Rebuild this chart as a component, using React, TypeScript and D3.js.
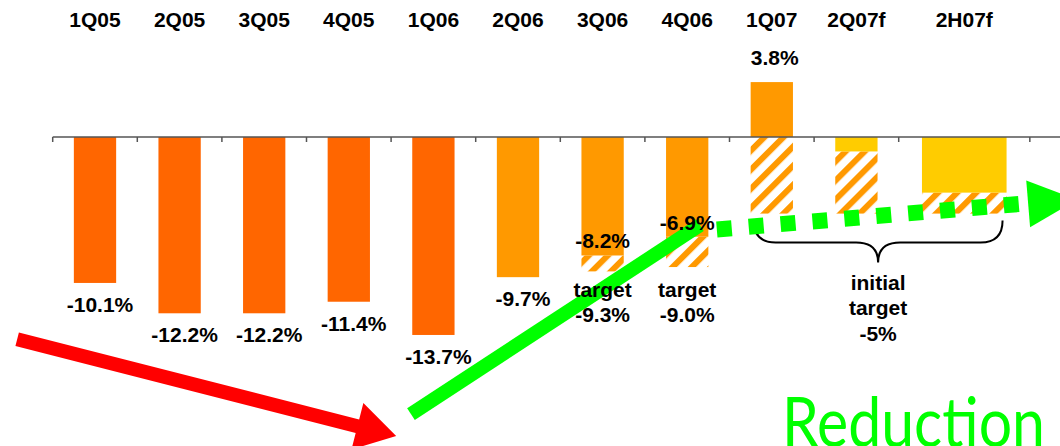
import React from 'react';
import * as d3 from 'd3';

// ---- data ----
const categories = ['1Q05', '2Q05', '3Q05', '4Q05', '1Q06', '2Q06', '3Q06', '4Q06', '1Q07', '2Q07f', '2H07f'];
const phases = ['before', 'before', 'before', 'before', 'before', 'programme', 'programme', 'programme', 'programme', 'forecast', 'forecast'];
const actualValues = [-10.1, -12.2, -12.2, -11.4, -13.7, -9.7, -8.2, -6.9, 3.8, -1.0, -3.85];
const targetValues: (number | null)[] = [null, null, null, null, null, null, -9.3, -9.0, -5.3, -5.3, -5.3];
const valueLabels: (string | null)[] = ['-10.1%', '-12.2%', '-12.2%', '-11.4%', '-13.7%', '-9.7%', '-8.2%', '-6.9%', '3.8%', null, null];
const targetLabels: (string | null)[] = [null, null, null, null, null, null, '-9.3%', '-9.0%', null, null, null];
const targetWord = 'target';
const initialTargetLines = ['initial', 'target', '-5%'];
const headline = 'Reduction';

// ---- layout ----
const W = 1060;
const H = 446;
const FONT = "'Liberation Sans', Arial, Helvetica, sans-serif";

const span = (c: string) => (c.startsWith('2H') ? 1.55 : 1);
const edges: number[] = [0];
categories.forEach((c, i) => edges.push(edges[i] + span(c)));

const x = d3.scaleLinear().domain([0, 10]).range([52.7, 898.7]);
const y = d3.scaleLinear().domain([0, -10]).range([137, 281.5]);
const color = d3.scaleOrdinal<string, string>()
  .domain(['before', 'programme', 'forecast'])
  .range(['#FF6600', '#FF9900', '#FFCC00']);

const center = (i: number) => x((edges[i] + edges[i + 1]) / 2);
const barW = (i: number) => (span(categories[i]) > 1 ? x(1) - x(0) : (x(1) - x(0)) * 0.5);

function arrowPath(x1: number, y1: number, x2: number, y2: number, shaftHalf: number, headLen: number, headHalf: number) {
  const dx = x2 - x1, dy = y2 - y1;
  const L = Math.hypot(dx, dy);
  const ux = dx / L, uy = dy / L;
  const nx = -uy, ny = ux;
  const bx = x2 - ux * headLen, by = y2 - uy * headLen;
  const p = d3.path();
  if (shaftHalf > 0) {
    p.moveTo(x1 + nx * shaftHalf, y1 + ny * shaftHalf);
    p.lineTo(bx + nx * shaftHalf, by + ny * shaftHalf);
    p.lineTo(bx + nx * headHalf, by + ny * headHalf);
    p.lineTo(x2, y2);
    p.lineTo(bx - nx * headHalf, by - ny * headHalf);
    p.lineTo(bx - nx * shaftHalf, by - ny * shaftHalf);
    p.lineTo(x1 - nx * shaftHalf, y1 - ny * shaftHalf);
  } else {
    p.moveTo(bx + nx * headHalf, by + ny * headHalf);
    p.lineTo(x2, y2);
    p.lineTo(bx - nx * headHalf, by - ny * headHalf);
  }
  p.closePath();
  return p.toString();
}

export default function App() {
  const axisY = y(0);
  const textProps = { fontFamily: FONT, fontWeight: 'bold' as const, fontSize: 21, fill: '#000', textAnchor: 'middle' as const };

  // brace under the 2007 forecasts
  const iFirst = 8, iLast = 10;
  const bL = center(iFirst) - barW(iFirst) / 2 + 3;
  const bR = center(iLast) + barW(iLast) / 2 - 4;
  const bTop = y(-5.3) + 7;
  const bMid = bTop + 22;
  const bTip = bTop + 42;
  const bC = (bL + bR) / 2;
  const r = 22;
  const brace = d3.path();
  brace.moveTo(bL, bTop);
  brace.quadraticCurveTo(bL, bMid, bL + r, bMid);
  brace.lineTo(bC - r, bMid);
  brace.quadraticCurveTo(bC, bMid, bC, bTip);
  brace.quadraticCurveTo(bC, bMid, bC + r, bMid);
  brace.lineTo(bR - r, bMid);
  brace.quadraticCurveTo(bR, bMid, bR, bTop);

  const targetRowY = y(d3.min(targetLabels.map((l, i) => (l ? (targetValues[i] as number) : 0))) as number) + 26;

  // annotation arrows
  const red = arrowPath(x(-0.42), y(-14.0), x(4.06), y(-20.7), 7, 40, 24);
  const greenStart = [x(4.235), y(-19.18)];
  const greenEnd = [x(7.65), y(-6.1)];
  const dotStart = [x(7.85), y(-6.4)];
  const dotEnd = [1026, y(-4.6)];
  const dotHead = arrowPath(dotStart[0], dotStart[1], 1077, y(-4.35), 0, 49, 23.5);

  return (
    <svg width={W} height={H} style={{ position: 'absolute', left: 0, top: 0, background: '#fff' }}>
      <defs>
        <pattern id="hatch" patternUnits="userSpaceOnUse" width={13.5} height={13.5} patternTransform="rotate(45)">
          <rect width={13.5} height={13.5} fill="#fff" />
          <rect x={0} y={0} width={6} height={13.5} fill="#FF9900" />
        </pattern>
      </defs>
      <rect width={W} height={H} fill="#fff" />

      {/* category labels */}
      {categories.map((c, i) => (
        <text key={'c' + c} x={center(i)} y={27} {...textProps}>{c}</text>
      ))}

      {/* bars */}
      {categories.map((c, i) => {
        const v = actualValues[i];
        const cx = center(i);
        const w = barW(i);
        const t = targetValues[i];
        return (
          <g key={'b' + c}>
            {t !== null && (
              <rect x={cx - w / 2} y={y(Math.min(0, v))} width={w} height={y(t) - y(Math.min(0, v))} fill="url(#hatch)" />
            )}
            <rect x={cx - w / 2} y={Math.min(y(v), axisY)} width={w} height={Math.abs(y(v) - axisY)} fill={color(phases[i])} />
          </g>
        );
      })}

      {/* axis */}
      <line x1={x(0)} x2={W} y1={axisY} y2={axisY} stroke="#555" strokeWidth={1.5} />
      {edges.map((e, i) => (
        <line key={'t' + i} x1={x(e)} x2={x(e)} y1={axisY} y2={axisY + 5} stroke="#555" strokeWidth={1.5} />
      ))}

      {/* brace */}
      <path d={brace.toString()} fill="none" stroke="#000" strokeWidth={2} />

      {/* arrows */}
      <path d={red} fill="#FF0000" />
      <line x1={greenStart[0]} y1={greenStart[1]} x2={greenEnd[0]} y2={greenEnd[1]} stroke="#00FF00" strokeWidth={14} />
      <line x1={dotStart[0]} y1={dotStart[1]} x2={dotEnd[0]} y2={dotEnd[1]} stroke="#00FF00" strokeWidth={16} strokeDasharray="15 17" />
      <path d={dotHead} fill="#00FF00" />

      {/* value labels */}
      {categories.map((c, i) => {
        const lab = valueLabels[i];
        if (!lab) return null;
        const v = actualValues[i];
        const cx = center(i);
        if (v > 0) return <text key={'v' + c} x={cx + 3} y={y(v) - 17} {...textProps}>{lab}</text>;
        if (targetValues[i] !== null) return <text key={'v' + c} x={cx} y={y(v) - 7} {...textProps}>{lab}</text>;
        return <text key={'v' + c} x={cx + 5} y={y(v) + 29} {...textProps}>{lab}</text>;
      })}

      {/* target labels */}
      {categories.map((c, i) => {
        const lab = targetLabels[i];
        if (!lab) return null;
        const cx = center(i);
        return (
          <g key={'tl' + c}>
            <text x={cx} y={targetRowY} {...textProps}>{targetWord}</text>
            <text x={cx} y={targetRowY + 25} {...textProps}>{lab}</text>
          </g>
        );
      })}

      {/* initial target */}
      {initialTargetLines.map((l, k) => (
        <text key={'it' + k} x={bC} y={bTip + 27 + k * 25.5} {...textProps}>{l}</text>
      ))}

      {/* headline */}
      <text x={782} y={447} fontFamily="Lato, 'Noto Sans', sans-serif" fontSize={70} fill="#00FF00" textLength={263} lengthAdjust="spacingAndGlyphs">{headline}</text>
    </svg>
  );
}
